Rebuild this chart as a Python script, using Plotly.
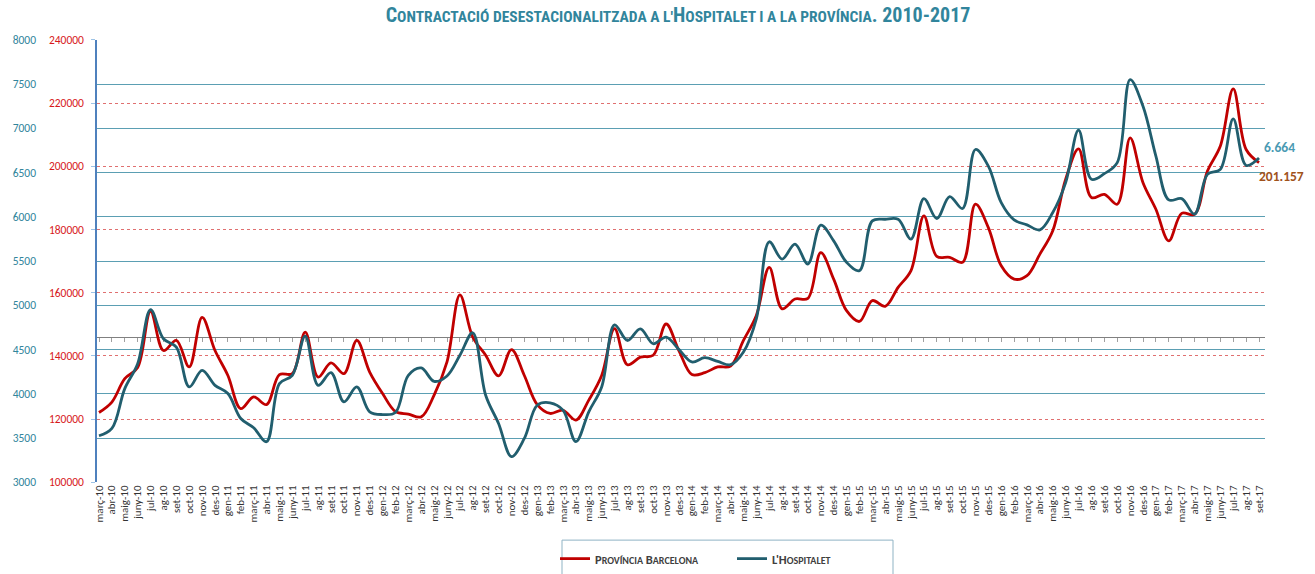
import plotly.graph_objects as go

months = ["gen", "feb", "març", "abr", "maig", "juny", "jul", "ag", "set", "oct", "nov", "des"]
categories = []
for yr in range(10, 18):
    for mi, m in enumerate(months):
        if (yr == 10 and mi < 2) or (yr == 17 and mi > 8):
            continue
        categories.append(f"{m}-{yr}")

provincia = [
    122100, 125400, 132800, 136300, 154100, 141700, 144900, 136500, 152200, 141700,
    133800, 123300, 127000, 124600, 134100, 134400, 147500, 133300, 137800, 134400,
    144900, 134900, 128100, 122400, 121600, 120700, 127600, 138100, 159300, 145900,
    140200, 133700, 142000, 133800, 124600, 121800, 122800, 119700, 126000, 133800,
    148600, 137200, 139600, 140200, 150100, 141600, 134100, 134700, 136500, 136800,
    144900, 152800, 168000, 154900, 158000, 158200, 172700, 164300, 154300, 150900,
    157500, 155700, 161700, 167000, 184300, 171500, 171200, 169600, 188000, 180600,
    168500, 164300, 165400, 172200, 179600, 195900, 205500, 190100, 191100, 188000,
    209000, 194800, 186400, 176400, 185100, 184800, 198500, 206400, 224500, 205300,
    201157,
]

hospitalet = [
    3526, 3609, 4059, 4340, 4952, 4622, 4528, 4078, 4265, 4096,
    4003, 3721, 3616, 3459, 4115, 4209, 4652, 4096, 4239, 3909,
    4078, 3797, 3766, 3789, 4209, 4292, 4141, 4202, 4435, 4690,
    3984, 3665, 3290, 3496, 3871, 3898, 3815, 3459, 3797, 4078,
    4780, 4603, 4735, 4566, 4641, 4500, 4360, 4408, 4367, 4329,
    4472, 4847, 5718, 5523, 5692, 5467, 5906, 5729, 5486, 5392,
    5954, 5973, 5973, 5748, 6206, 5981, 6229, 6094, 6761, 6573,
    6161, 5966, 5909, 5853, 6049, 6387, 6979, 6424, 6488, 6612,
    7550, 7249, 6686, 6191, 6206, 6030, 6480, 6536, 7107, 6581,
    6664,
]

prov_ticks = list(range(100000, 240001, 20000))
hosp_ticks = list(range(3000, 8001, 500))

RED = "#c00000"
TEAL = "#215e6e"
TITLE_C = "#31859c"
FONT = "Carlito, Calibri, Lato, sans-serif"
NARROW = "'Arial Narrow', 'Liberation Sans Narrow', 'Roboto Condensed', Arial, sans-serif"

W, H = 1315, 574
x0, x1 = 97 / W, 1265 / W
y0, y1 = (H - 484) / H, (H - 40) / H

def fmt(v):
    return f"{v:,}".replace(",", ".")

def sc(first, rest, small=10):
    return f"{first}<span style='font-size:{small}px'>{rest}</span>"

fig = go.Figure()
fig.add_trace(go.Scatter(
    x=categories, y=provincia, name="<b>" + sc("P", "ROVÍNCIA") + " " + sc("B", "ARCELONA") + "</b>",
    mode="lines", line=dict(color=RED, width=2.8, shape="spline", smoothing=1.0),
    yaxis="y", xaxis="x",
))
fig.add_trace(go.Scatter(
    x=categories, y=hospitalet, name="<b>L'" + sc("H", "OSPITALET") + "</b>",
    mode="lines", line=dict(color=TEAL, width=2.8, shape="spline", smoothing=1.0),
    yaxis="y2", xaxis="x",
))
# helper trace so the crossing category line (x2) is drawn
fig.add_trace(go.Scatter(
    x=[0, len(categories) - 1], y=[None, None], xaxis="x2", yaxis="y",
    showlegend=False, hoverinfo="skip", mode="lines",
))

rng = [-0.155, len(categories) - 1 + 0.465]

title_text = (
    "<b><span style='font-size:20px'>C</span>ONTRACTACIÓ DESESTACIONALITZADA A L'"
    "<span style='font-size:20px'>H</span>OSPITALET I A LA PROVÍNCIA"
    "<span style='font-size:20px'>. 2010-2017</span></b>"
)

fig.update_layout(
    width=W, height=H,
    margin=dict(l=0, r=0, t=0, b=0),
    paper_bgcolor="white", plot_bgcolor="white",
    font=dict(family=FONT, size=11, color="#404040"),
    title=dict(text=title_text, x=678 / W, y=1 - 17 / H, xanchor="center", yanchor="middle",
               font=dict(family=NARROW, size=15.5, color=TITLE_C)),
    xaxis=dict(
        domain=[x0, x1], type="category", range=rng,
        tickmode="array", tickvals=categories, ticktext=categories,
        tickangle=-90, tickfont=dict(size=11, color="#333333", family=FONT),
        showgrid=False, zeroline=False, showline=False, ticks="", automargin=False,
    ),
    xaxis2=dict(
        overlaying="x", anchor="free", position=(H - 338) / H, range=rng,
        tickmode="linear", tick0=0, dtick=1, ticks="outside", ticklen=4,
        tickcolor="#a0a0a0", showticklabels=False, showgrid=False, zeroline=False,
        showline=True, linecolor="#808080", linewidth=1, layer="below traces",
    ),
    yaxis=dict(
        domain=[y0, y1], range=[100000, 240000], tickvals=prov_ticks,
        ticktext=[str(v) for v in prov_ticks],
        tickfont=dict(color="#d7191c", size=11.5, family=FONT),
        showgrid=True, gridcolor="#e07070", griddash="dot", gridwidth=1,
        zeroline=False, showline=True, linecolor="#4f81bd", linewidth=1.5,
        ticks="outside", ticklen=4, tickcolor="#9dc3e6", ticklabelstandoff=5,
        automargin=False,
    ),
    yaxis2=dict(
        overlaying="y", anchor="free", position=36 / W, side="left",
        range=[3000, 8000], tickvals=hosp_ticks,
        tickfont=dict(color=TITLE_C, size=11.5, family=FONT),
        showgrid=True, gridcolor="#5b9fb3", gridwidth=1,
        zeroline=False, showline=False, ticks="", automargin=False,
    ),
    legend=dict(
        orientation="h", x=732 / W, xanchor="center", y=(H - 546) / H, yanchor="top",
        borderwidth=0, bgcolor="rgba(0,0,0,0)",
        font=dict(size=12.5, color="#404040", family=FONT),
        itemwidth=30, entrywidth=132,
    ),
    shapes=[
        dict(type="rect", xref="paper", yref="paper", x0=562 / W, x1=893 / W,
             y0=-0.05, y1=(H - 542) / H, line=dict(color="#8fb3c4", width=1),
             fillcolor="rgba(0,0,0,0)", layer="below"),
    ],
    annotations=[
        dict(x=categories[-1], y=hospitalet[-1], xref="x", yref="y2", text=f"<b>{fmt(hospitalet[-1])}</b>",
             showarrow=False, xanchor="left", yanchor="middle", xshift=3, yshift=11,
             font=dict(color="#4a9ab3", size=13.5, family=FONT)),
        dict(x=categories[-1], y=provincia[-1], xref="x", yref="y", text=f"<b>{fmt(provincia[-1])}</b>",
             showarrow=False, xanchor="left", yanchor="middle", xshift=-2, yshift=-14,
             font=dict(color="#a0521b", size=13.5, family=FONT)),
    ],
)

fig.write_html("out.html", config={"displayModeBar": False},
               post_script="document.body.style.margin='0';document.body.style.overflow='hidden';")
